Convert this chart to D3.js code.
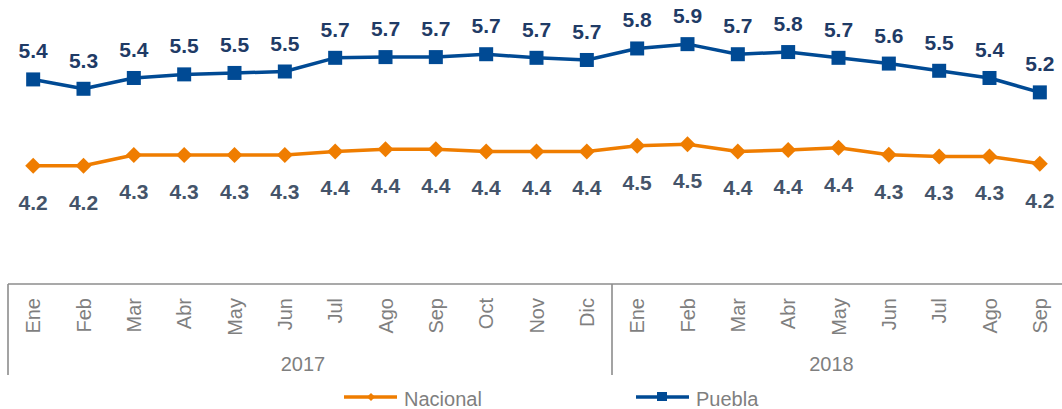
<!DOCTYPE html>
<html>
<head>
<meta charset="utf-8">
<script src="https://cdn.jsdelivr.net/npm/d3@7.9.0/dist/d3.min.js"></script>
<style>
  html, body { margin: 0; padding: 0; background: #fff; }
  svg { display: block; font-family: "Liberation Sans", Arial, sans-serif; }
</style>
</head>
<body>
<svg id="chart" width="1062" height="409"></svg>
<script>
const months2017 = ['Ene', 'Feb', 'Mar', 'Abr', 'May', 'Jun', 'Jul', 'Ago', 'Sep', 'Oct', 'Nov', 'Dic'];
const months2018 = ['Ene', 'Feb', 'Mar', 'Abr', 'May', 'Jun', 'Jul', 'Ago', 'Sep'];
const years = ['2017', '2018'];
const puebla = [5.39, 5.26, 5.41, 5.46, 5.48, 5.50, 5.69, 5.70, 5.70, 5.74, 5.69, 5.66,
                5.82, 5.88, 5.74, 5.77, 5.69, 5.61, 5.51, 5.41, 5.21];
const nacional = [4.19, 4.19, 4.34, 4.34, 4.34, 4.34, 4.39, 4.42, 4.42, 4.39, 4.39, 4.39,
                  4.47, 4.49, 4.39, 4.41, 4.44, 4.345, 4.32, 4.32, 4.22];

const months = months2017.concat(months2018);
const idx = d3.range(months.length);

const svg = d3.select('#chart');
const fmt = d3.format('.1f');

const x = d3.scaleBand().domain(idx).range([8, 1065]).padding(0);
const cx = i => x(i) + x.bandwidth() / 2;
const y = d3.scaleLinear().domain([3.5, 6.0]).range([215.5, 35.5]);

const axisTop = 284, axisBottom = 375;
const axisColor = '#8c8c8c';

// category axis frame
svg.append('line')
  .attr('x1', 8).attr('x2', 1062)
  .attr('y1', axisTop).attr('y2', axisTop)
  .attr('stroke', axisColor).attr('stroke-width', 1.6);

[0, months2017.length].forEach(i => {
  svg.append('line')
    .attr('x1', x(i)).attr('x2', x(i))
    .attr('y1', axisTop).attr('y2', axisBottom)
    .attr('stroke', axisColor).attr('stroke-width', 1.6);
});

// month labels
svg.append('g').selectAll('text')
  .data(idx)
  .join('text')
  .attr('transform', i => `translate(${cx(i)},298) rotate(-90)`)
  .attr('text-anchor', 'end')
  .attr('dy', '0.35em')
  .attr('font-size', 20)
  .attr('fill', '#7f7f7f')
  .text(i => months[i]);

// year labels
const yearGroups = [
  [0, months2017.length - 1],
  [months2017.length, months.length - 1]
];
svg.append('g').selectAll('text')
  .data(yearGroups)
  .join('text')
  .attr('x', d => (cx(d[0]) + cx(d[1])) / 2 - 7)
  .attr('y', 371)
  .attr('text-anchor', 'middle')
  .attr('font-size', 20)
  .attr('fill', '#7f7f7f')
  .text((d, i) => years[i]);

const line = d3.line().x((d, i) => cx(i)).y(d => y(d));

const orange = '#ef7d00';
const blue = '#004a94';

// Nacional series
svg.append('path')
  .datum(nacional)
  .attr('d', line)
  .attr('fill', 'none')
  .attr('stroke', orange)
  .attr('stroke-width', 3.5)
  .attr('stroke-linejoin', 'round');

svg.append('g').selectAll('path')
  .data(nacional)
  .join('path')
  .attr('d', d3.symbol(d3.symbolSquare, 128))
  .attr('transform', (d, i) => `translate(${cx(i)},${y(d)}) rotate(45)`)
  .attr('fill', orange);

svg.append('g').selectAll('text')
  .data(nacional)
  .join('text')
  .attr('x', (d, i) => cx(i))
  .attr('y', d => y(d) + 44)
  .attr('text-anchor', 'middle')
  .attr('font-size', 21)
  .attr('font-weight', 'bold')
  .attr('fill', '#44546a')
  .text(d => fmt(d));

// Puebla series
svg.append('path')
  .datum(puebla)
  .attr('d', line)
  .attr('fill', 'none')
  .attr('stroke', blue)
  .attr('stroke-width', 3.5)
  .attr('stroke-linejoin', 'round');

svg.append('g').selectAll('rect')
  .data(puebla)
  .join('rect')
  .attr('x', (d, i) => cx(i) - 7)
  .attr('y', d => y(d) - 7)
  .attr('width', 14)
  .attr('height', 14)
  .attr('fill', blue);

svg.append('g').selectAll('text')
  .data(puebla)
  .join('text')
  .attr('x', (d, i) => cx(i))
  .attr('y', d => y(d) - 21)
  .attr('text-anchor', 'middle')
  .attr('font-size', 21)
  .attr('font-weight', 'bold')
  .attr('fill', '#1f3b66')
  .text(d => fmt(d));

// legend
const legend = svg.append('g');
const legendItems = [
  { name: 'Nacional', color: orange, x: 344, marker: 'diamond' },
  { name: 'Puebla', color: blue, x: 636, marker: 'square' }
];
legendItems.forEach(d => {
  legend.append('line')
    .attr('x1', d.x).attr('x2', d.x + 53)
    .attr('y1', 397).attr('y2', 397)
    .attr('stroke', d.color).attr('stroke-width', 3.5);
  if (d.marker === 'diamond') {
    legend.append('path')
      .attr('d', d3.symbol(d3.symbolSquare, 32))
      .attr('transform', `translate(${d.x + 27},397) rotate(45)`)
      .attr('fill', d.color);
  } else {
    legend.append('rect')
      .attr('x', d.x + 21).attr('y', 392)
      .attr('width', 10).attr('height', 9)
      .attr('fill', d.color);
  }
  legend.append('text')
    .attr('x', d.x + 60)
    .attr('y', 406)
    .attr('font-size', 20)
    .attr('fill', '#7f7f7f')
    .text(d.name);
});
</script>
</body>
</html>
